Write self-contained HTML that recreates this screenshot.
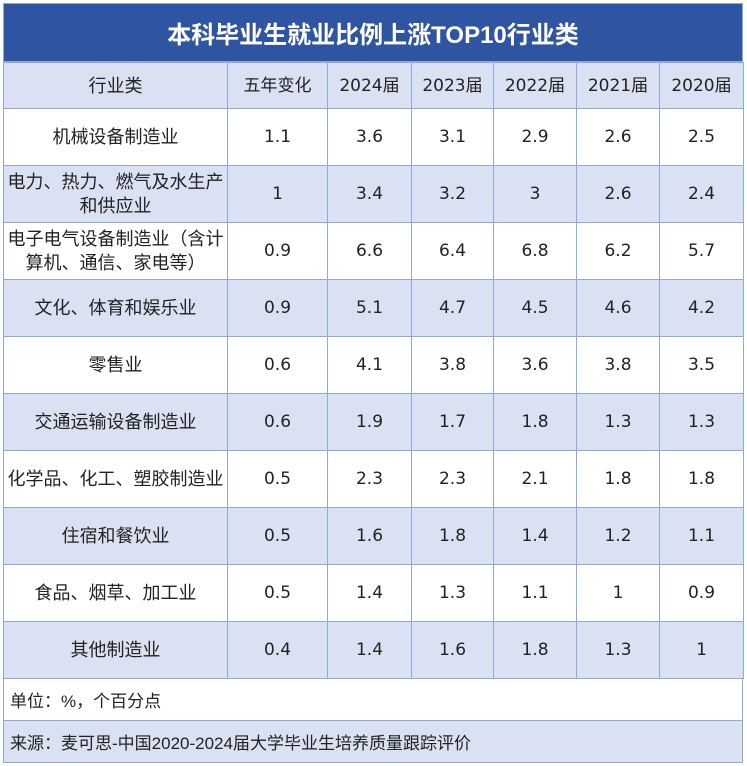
<!DOCTYPE html><html><head><meta charset="utf-8"><style>
body{margin:0;width:747px;height:766px;background:#fff;font-family:"Liberation Sans","Noto Sans CJK SC",sans-serif;position:relative;overflow:hidden}
.t{position:absolute;left:3px;top:3px;width:740px;height:59px;background:#2F55A2;color:#fff;font-weight:bold;font-size:24px;display:flex;align-items:center;justify-content:center;border:1px solid #8EA9DB;box-sizing:border-box}
table{position:absolute;left:3px;top:62px;border-collapse:collapse;table-layout:fixed;width:740px}
td{border:1px solid #8EA9DB;text-align:center;vertical-align:middle;font-size:18px;color:#222;line-height:24px;padding:0 2px;height:57px;box-sizing:border-box;font-family:"DejaVu Sans","Noto Sans CJK SC",sans-serif;font-size:17px}
td:first-child{font-family:"Liberation Sans","Noto Sans CJK SC",sans-serif;font-size:18px}
tr.h td{height:46px}
tr.b td{background:#D9E1F2}
.f{position:absolute;left:3px;width:740px;box-sizing:border-box;border-left:1px solid #8EA9DB;border-right:1px solid #8EA9DB;border-bottom:1px solid #8EA9DB;display:flex;align-items:center;padding-left:6px;font-size:17px;color:#222}
</style></head><body>
<div class="t">本科毕业生就业比例上涨TOP10行业类</div>
<table>
<colgroup><col style="width:224px"><col style="width:100px"><col style="width:84px"><col style="width:82px"><col style="width:83px"><col style="width:83px"><col style="width:84px"></colgroup>
<tr class="h b"><td>行业类</td><td>五年变化</td><td>2024届</td><td>2023届</td><td>2022届</td><td>2021届</td><td>2020届</td></tr>
<tr><td>机械设备制造业</td><td>1.1</td><td>3.6</td><td>3.1</td><td>2.9</td><td>2.6</td><td>2.5</td></tr>
<tr class="b"><td>电力、热力、燃气及水生产和供应业</td><td>1</td><td>3.4</td><td>3.2</td><td>3</td><td>2.6</td><td>2.4</td></tr>
<tr><td>电子电气设备制造业（含计算机、通信、家电等）</td><td>0.9</td><td>6.6</td><td>6.4</td><td>6.8</td><td>6.2</td><td>5.7</td></tr>
<tr class="b"><td>文化、体育和娱乐业</td><td>0.9</td><td>5.1</td><td>4.7</td><td>4.5</td><td>4.6</td><td>4.2</td></tr>
<tr><td>零售业</td><td>0.6</td><td>4.1</td><td>3.8</td><td>3.6</td><td>3.8</td><td>3.5</td></tr>
<tr class="b"><td>交通运输设备制造业</td><td>0.6</td><td>1.9</td><td>1.7</td><td>1.8</td><td>1.3</td><td>1.3</td></tr>
<tr><td>化学品、化工、塑胶制造业</td><td>0.5</td><td>2.3</td><td>2.3</td><td>2.1</td><td>1.8</td><td>1.8</td></tr>
<tr class="b"><td>住宿和餐饮业</td><td>0.5</td><td>1.6</td><td>1.8</td><td>1.4</td><td>1.2</td><td>1.1</td></tr>
<tr><td>食品、烟草、加工业</td><td>0.5</td><td>1.4</td><td>1.3</td><td>1.1</td><td>1</td><td>0.9</td></tr>
<tr class="b"><td>其他制造业</td><td>0.4</td><td>1.4</td><td>1.6</td><td>1.8</td><td>1.3</td><td>1</td></tr>
</table>
<div class="f" style="top:679px;height:42px;background:#fff">单位：%，个百分点</div>
<div class="f" style="top:721px;height:42px;background:#D9E1F2">来源：麦可思-中国2020-2024届大学毕业生培养质量跟踪评价</div>
</body></html>
